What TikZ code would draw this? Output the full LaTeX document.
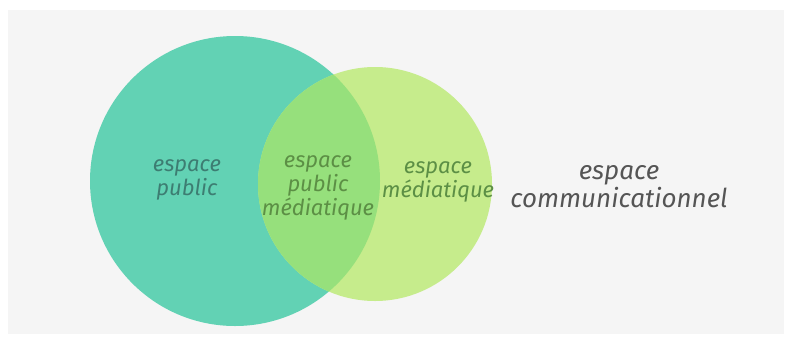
\documentclass[tikz,border=0pt]{standalone}
\usepackage{fontspec}
\setmainfont{Fira Sans}
\usepackage{tikz}
\usetikzlibrary{positioning}

\definecolor{bggray}{HTML}{F5F5F5}
\definecolor{teal1}{HTML}{62D2B4}
\definecolor{lime1}{HTML}{C6EC8C}
\definecolor{mix1}{HTML}{96E07C}
\definecolor{tealtext}{HTML}{3D7D72}
\definecolor{limetext}{HTML}{5C8F45}
\definecolor{graytext}{HTML}{555555}

\tikzset{
  label/.style={align=center, font=\itshape\fontsize{11}{12}\selectfont, inner sep=0pt},
}

\begin{document}
\begin{tikzpicture}[x=0.5pt, y=-0.5pt]
      \useasboundingbox (0,0) rectangle (792,338);
      \fill[bggray] (8,10) rectangle (784,334);
      \fill[teal1] (235,181) circle (145);
      \fill[lime1] (375,184) circle (117);
      \begin{scope}
        \clip (235,181) circle (145);
        \fill[mix1] (375,184) circle (117);
      \end{scope}
      \node[label, text=tealtext] (public) at (187,180) {espace\\public};
      \node[label, text=limetext] (pubmed) at (318,188) {espace\\public\\médiatique};
      \node[label, text=limetext] (med) at (438,182) {espace\\médiatique};
      \node[label, text=graytext, font=\itshape\fontsize{13}{14}\selectfont] (comm) at (619,187) {espace\\communicationnel};
    \end{tikzpicture}
\end{document}
